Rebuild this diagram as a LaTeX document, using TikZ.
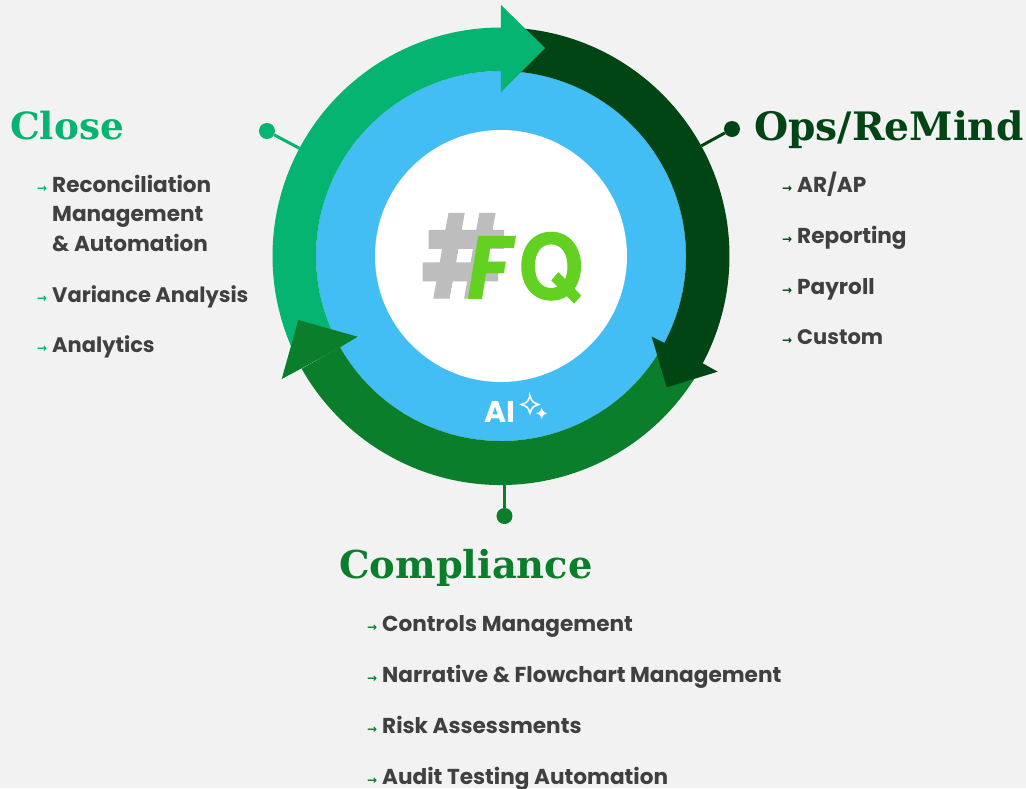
\documentclass[tikz,border=0pt]{standalone}
\usepackage{fontspec}
\usepackage{graphicx}
\setmainfont{Poppins}
\newfontfamily\headfont{DejaVu Serif}
\newfontfamily\arrowfont{DejaVu Sans}
\newfontfamily\logofont[BoldFeatures={FakeBold=1.2}]{Poppins}
\newfontfamily\qfont[BoldFeatures={FakeBold=1.2}]{TeX Gyre Heros}
\usepackage{tikz}
\usetikzlibrary{positioning}

\definecolor{pagegray}{HTML}{F2F2F2}
\definecolor{closegreen}{HTML}{05B470}
\definecolor{opsgreen}{HTML}{024515}
\definecolor{compgreen}{HTML}{0A7E2B}
\definecolor{aiblue}{HTML}{42BEF5}
\definecolor{limegreen}{HTML}{62D122}
\definecolor{hashgray}{HTML}{BDBDBD}
\definecolor{itemgray}{HTML}{404040}

\newcommand{\bul}[1]{\makebox[0pt][r]{\arrowfont\fontsize{12}{12}\selectfont\color{#1}→\hspace{5pt}}}

\begin{document}
\begin{tikzpicture}[
    x=1pt, y=1pt,
    head/.style={anchor=base west, inner sep=0pt, font=\headfont\bfseries\fontsize{#1}{#1}\selectfont},
    item/.style={anchor=base west, inner sep=0pt, text=itemgray, align=left, font=\bfseries\fontsize{21.6}{29.5}\selectfont},
    smallitem/.style={item, font=\bfseries\fontsize{21}{29.5}\selectfont},
    logo/.style={anchor=base west, inner sep=0pt, text=limegreen},
    dot/.style={circle, minimum size=16pt, inner sep=0pt},
    stem/.style={line width=3pt},
    sparkle/.pic={\path[pic actions] (0,1) .. controls (0.28,0.28) .. (1,0) .. controls (0.28,-0.28) .. (0,-1) .. controls (-0.28,-0.28) .. (-1,0) .. controls (-0.28,0.28) .. cycle;}
]

    % Page
    \fill[pagegray] (-501,-532) rectangle (525,256);
    \useasboundingbox (-501,-532) rectangle (525,256);

    % Hub
    \node (ring) [circle, minimum size=457pt, inner sep=0pt] at (0,0) {};
    \node (ai) [circle, fill=aiblue, minimum size=370pt, inner sep=0pt] at (0,0) {};
    \node (hub) [circle, fill=white, minimum size=252pt, inner sep=0pt] at (0,0) {};

    % Logo
    \node (hash) [logo, text=hashgray, font=\logofont\bfseries\fontsize{114}{114}\selectfont] at (-80,-42) {\scalebox{0.83}[1]{\#}};
    \node (f) [logo, font=\logofont\bfseries\itshape\fontsize{90}{90}\selectfont] at (-34,-43) {\scalebox{0.92}[1]{F}};
    \node (q) [logo, font=\qfont\bfseries\fontsize{90}{90}\selectfont] at (17,-43) {\scalebox{0.93}[1]{Q}};

    % Dots and stems
    \node (closedot) [dot, fill=closegreen] at (-234,125) {};
    \node (opsdot) [dot, fill=opsgreen] at (231,127) {};
    \node (compdot) [dot, fill=compgreen] at (3.5,-260) {};
    \draw [stem, closegreen] (closedot) -- (ring);
    \draw [stem, opsgreen] (opsdot) -- (ring);
    \draw [stem, compgreen] (compdot) -- (compdot |- ring.south);

    % Ring arrows
    \fill[compgreen] (-30:229) arc[start angle=-30, end angle=-150.5, radius=229] -- (-150.5:185) arc[start angle=-150.5, end angle=-30, radius=185] -- cycle;
    \fill[opsgreen] (90:228.5) arc[start angle=90, end angle=-28, radius=228.5] -- (216.7,-115.7) -- (165.7,-131.3) -- (150.7,-80.7) -- (-28:185) arc[start angle=-28, end angle=90, radius=185] -- cycle;
    \fill[closegreen] (205:228.5) arc[start angle=205, end angle=90, radius=228.5] -- (0,251) -- (44,208) -- (0,164) -- (90:185) arc[start angle=90, end angle=205, radius=185] -- cycle;
    \fill[compgreen] (-143.3,-80.7) -- (-202.7,-64) -- (-219.3,-123) -- (-199.3,-112.3) -- (-161,-91.3) -- cycle;

    % AI
    \node (ailabel) [anchor=base, inner sep=0pt, text=white, font=\bfseries\fontsize{30}{30}\selectfont] at (-1.5,-166) {AI};
    \pic[draw=white, line width=1.6pt, scale=8.5] at (29,-148.5) {sparkle};
    \pic[fill=white, scale=5.5] at (40.7,-157.3) {sparkle};

    % Close
    \node (close) [head=37.4, text=closegreen] at (-491,117) {Close};
    \node (rec) [item] at (-449,5) {\bul{closegreen}Reconciliation\\Management\\\& Automation};
    \node (var) [smallitem] at (-449,-46) {\bul{closegreen}Variance Analysis};
    \node (ana) [smallitem] at (-449,-96) {\bul{closegreen}Analytics};

    % Ops/ReMind
    \node (ops) [head=39.2, text=opsgreen] at (253,116) {Ops/ReMind};
    \node (arap) [item] at (296,64) {\bul{opsgreen}AR/AP};
    \node (rep) [item] at (296,13) {\bul{opsgreen}Reporting};
    \node (pay) [item] at (296,-38) {\bul{opsgreen}Payroll};
    \node (cus) [smallitem] at (296,-88) {\bul{opsgreen}Custom};

    % Compliance
    \node (comp) [head=38.4, text=compgreen] at (-162,-322) {Compliance};
    \node (con) [item] at (-119,-375) {\bul{compgreen}Controls Management};
    \node (nar) [item] at (-119,-426) {\bul{compgreen}Narrative \& Flowchart Management};
    \node (ris) [item] at (-119,-477) {\bul{compgreen}Risk Assessments};
    \node (aud) [item] at (-119,-528) {\bul{compgreen}Audit Testing Automation};

\end{tikzpicture}
\end{document}
